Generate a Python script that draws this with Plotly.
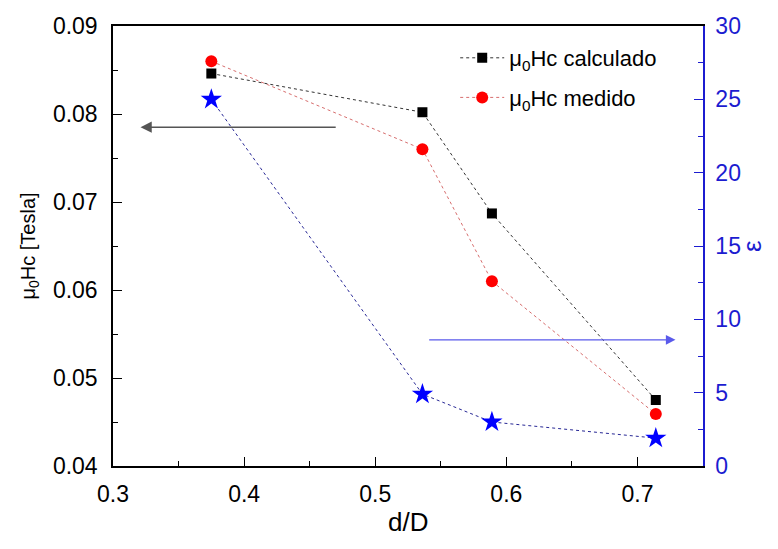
import plotly.graph_objects as go

# ---- data ----
d_over_D = [0.375, 0.536, 0.589, 0.714]
hc_calculado = [0.0846, 0.0802, 0.0687, 0.0475]
hc_medido = [0.0860, 0.0760, 0.0610, 0.0459]
epsilon = [25.0, 4.9, 3.0, 1.9]

x_ticks = [0.3, 0.4, 0.5, 0.6, 0.7]
y_ticks = [0.04, 0.05, 0.06, 0.07, 0.08, 0.09]
y2_ticks = [0, 5, 10, 15, 20, 25, 30]

FONT = "Liberation Sans, Arial, sans-serif"
BLUE = "#1c1cd0"

fig = go.Figure()

fig.add_trace(go.Scatter(
    x=d_over_D, y=hc_calculado, mode="lines+markers",
    name="μ<sub>0</sub>Hc calculado", legendgroup="a",
    line=dict(color="#333333", width=1, dash="3px,3px"),
    marker=dict(symbol="square", size=10, color="black"),
))
fig.add_trace(go.Scatter(
    x=d_over_D, y=hc_medido, mode="lines+markers",
    name="μ<sub>0</sub>Hc medido", legendgroup="b",
    line=dict(color="rgb(215,110,110)", width=1, dash="3px,3px"),
    marker=dict(symbol="circle", size=12, color="red"),
))
fig.add_trace(go.Scatter(
    x=d_over_D, y=epsilon, mode="lines+markers", yaxis="y2",
    showlegend=False,
    line=dict(color="rgb(40,40,150)", width=1, dash="3px,3px"),
    marker=dict(symbol="star", size=16, color="blue", line=dict(width=0)),
))

# arrows indicating which axis each series belongs to
fig.add_annotation(x=0.321, y=0.0785, ax=0.471, ay=0.0785,
                   xref="x", yref="y", axref="x", ayref="y",
                   text="", showarrow=True, arrowhead=2, arrowsize=1.4,
                   arrowwidth=1.6, arrowcolor="#555555")
fig.add_annotation(x=0.729, y=8.6, ax=0.540, ay=8.6,
                   xref="x", yref="y2", axref="x", ayref="y2",
                   text="", showarrow=True, arrowhead=2, arrowsize=1.6,
                   arrowwidth=1.2, arrowcolor="rgb(90,90,235)")

# axis titles
fig.add_annotation(x=1.083, y=0.5, xref="paper", yref="paper",
                   text="ε", showarrow=False, textangle=-90,
                   xanchor="center", yanchor="middle",
                   font=dict(family=FONT, size=26, color=BLUE))
fig.add_annotation(x=0.5, y=-0.127, xref="paper", yref="paper",
                   text="d/D", showarrow=False,
                   xanchor="center", yanchor="middle",
                   font=dict(family=FONT, size=26, color="black"))

fig.update_layout(
    width=762, height=533,
    margin=dict(l=105, r=67, t=18, b=75, autoexpand=False),
    paper_bgcolor="white", plot_bgcolor="white",
    font=dict(family=FONT, color="black"),
    xaxis=dict(
        range=[0.3, 0.75], tickvals=x_ticks, ticktext=[f"{v:g}" for v in x_ticks],
        mirror=True, linecolor="black", tickcolor="black", automargin=False,
        ticks="inside", ticklen=9, tickwidth=1.2, showline=True, linewidth=1.5,
        showgrid=False, zeroline=False, ticklabelstandoff=7,
        tickfont=dict(family=FONT, size=23),
        minor=dict(dtick=0.05, tick0=0.3, ticks="inside", ticklen=5, tickcolor="black"),
    ),
    yaxis=dict(
        range=[0.04, 0.09], tickvals=y_ticks, ticktext=[f"{v:.2f}" for v in y_ticks],
        linecolor="black", tickcolor="black", automargin=False,
        ticks="inside", ticklen=9, tickwidth=1.2, showline=True, linewidth=1.5,
        showgrid=False, zeroline=False, ticklabelstandoff=9,
        tickfont=dict(family=FONT, size=23),
        minor=dict(dtick=0.005, tick0=0.04, ticks="inside", ticklen=5, tickcolor="black"),
        title=dict(text="μ<sub>0</sub>Hc [Tesla]", font=dict(family=FONT, size=20), standoff=12),
    ),
    yaxis2=dict(
        range=[0, 30], tickvals=y2_ticks, ticktext=[str(v) for v in y2_ticks],
        overlaying="y", side="right", anchor="x", automargin=False,
        linecolor=BLUE, tickcolor=BLUE,
        ticks="inside", ticklen=9, tickwidth=1.2, showline=True, linewidth=1.5,
        showgrid=False, zeroline=False, ticklabelstandoff=6,
        tickfont=dict(family=FONT, size=23, color=BLUE),
        minor=dict(dtick=2.5, tick0=0, ticks="inside", ticklen=5, tickcolor=BLUE),
    ),
    legend=dict(
        x=0.58, y=0.975, xanchor="left", yanchor="top",
        bgcolor="rgba(0,0,0,0)", font=dict(family=FONT, size=22),
        traceorder="grouped", tracegroupgap=8, itemwidth=44,
    ),
)

fig.write_html("out.html")
